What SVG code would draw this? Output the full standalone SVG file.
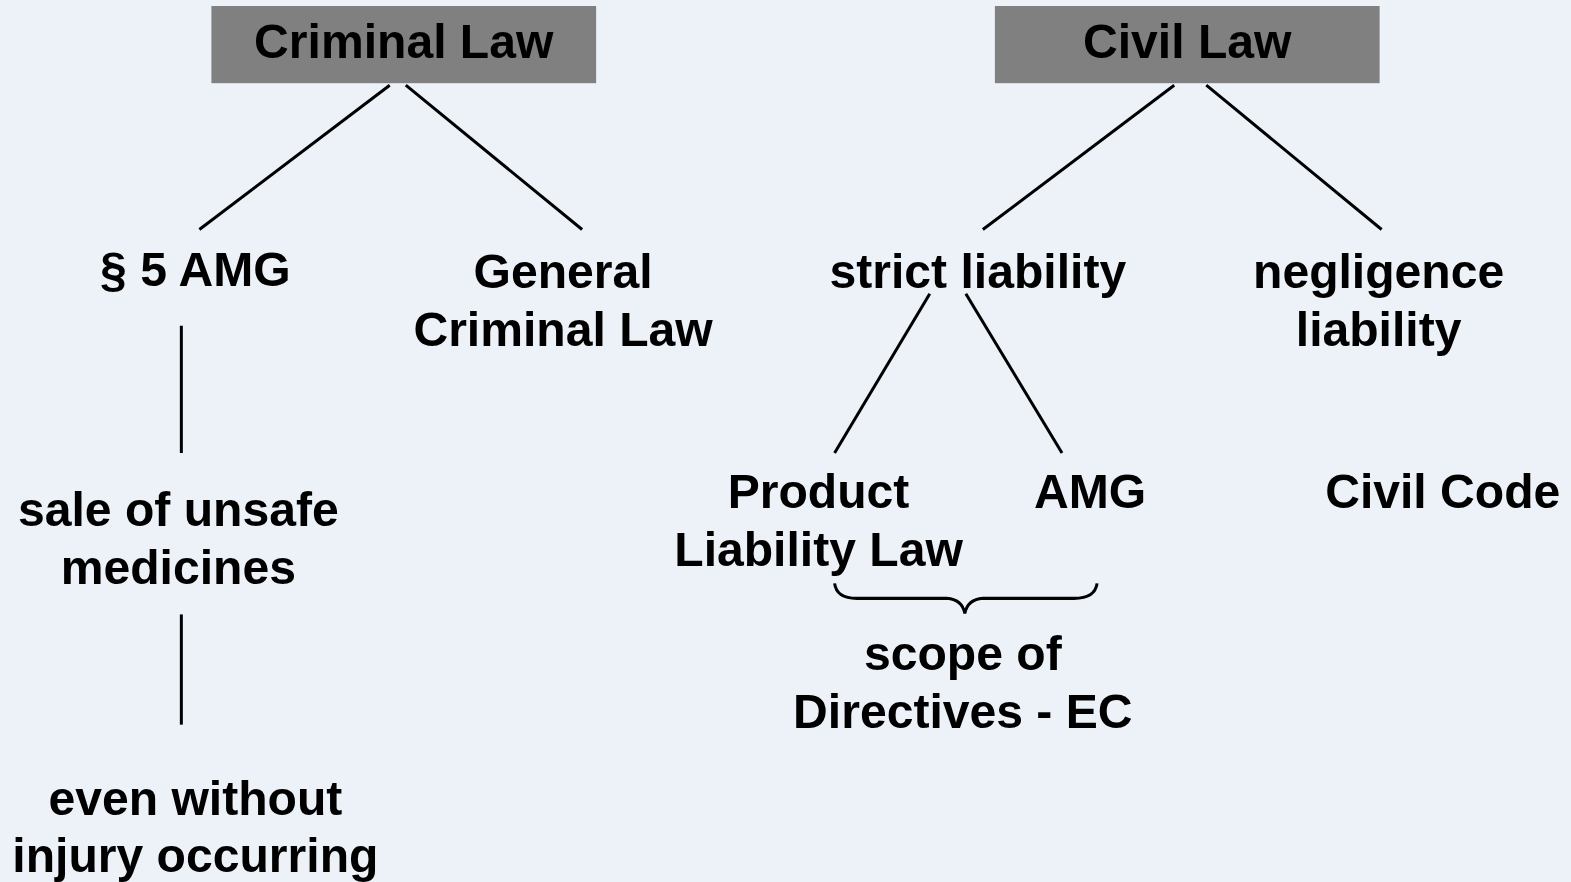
<svg xmlns="http://www.w3.org/2000/svg" width="1571" height="882" viewBox="0 0 1571 882">
  <style>
    .t { font-family: "Liberation Sans", Arial, sans-serif; font-weight: bold; font-size: 48px; fill: #000; text-anchor: middle; }
    .box { fill: #808080; }
    .ln { stroke: #000; stroke-width: 3; fill: none; }
  </style>
  <rect width="1571" height="882" fill="#EDF2F9"/>

  <g transform="scale(1.0019 1.0023)">
  <g id="connectors">
    <line class="ln" x1="389" y1="85" x2="199" y2="229"/>
    <line class="ln" x1="405" y1="85" x2="581" y2="229"/>
    <line class="ln" x1="1172" y1="85" x2="981" y2="229"/>
    <line class="ln" x1="1204" y1="85" x2="1379" y2="229"/>
    <line class="ln" x1="928" y1="293" x2="833" y2="452"/>
    <line class="ln" x1="964" y1="293" x2="1060" y2="452"/>
    <line class="ln" x1="181" y1="325" x2="181" y2="452"/>
    <line class="ln" x1="181" y1="613" x2="181" y2="723"/>
    <!-- curly brace under the two strict-liability sources -->
    <path class="ln" d="M833,582 Q835,597 855,597 L945,597 Q960,598 963,612 Q966,598 981,597 L1072,597 Q1093,597 1095,582"/>
  </g>

  <g id="criminal-law">
    <rect class="box" x="211" y="6" width="384" height="77"/>
    <text class="t" x="403" y="58">Criminal Law</text>
  </g>
  <g id="civil-law">
    <rect class="box" x="993" y="6" width="384" height="77"/>
    <text class="t" x="1185" y="58">Civil Law</text>
  </g>

  <g id="amg-5"><text class="t" x="195" y="285">§ 5 AMG</text></g>
  <g id="general-criminal-law">
    <text class="t" x="562" y="287">General</text>
    <text class="t" x="562" y="345">Criminal Law</text>
  </g>
  <g id="strict-liability"><text class="t" x="976" y="287">strict liability</text></g>
  <g id="negligence-liability">
    <text class="t" x="1376" y="287">negligence</text>
    <text class="t" x="1376" y="345">liability</text>
  </g>
  <g id="sale-unsafe">
    <text class="t" x="178" y="525">sale of unsafe</text>
    <text class="t" x="178" y="583">medicines</text>
  </g>
  <g id="without-injury">
    <text class="t" x="195" y="813">even without</text>
    <text class="t" x="195" y="870">injury occurring</text>
  </g>
  <g id="product-liability">
    <text class="t" x="817" y="507">Product</text>
    <text class="t" x="817" y="565">Liability Law</text>
  </g>
  <g id="amg"><text class="t" x="1088" y="507">AMG</text></g>
  <g id="civil-code"><text class="t" x="1440" y="507">Civil Code</text></g>
  <g id="directives">
    <text class="t" x="961" y="668">scope of</text>
    <text class="t" x="961" y="726">Directives - EC</text>
  </g>
  </g>
</svg>
